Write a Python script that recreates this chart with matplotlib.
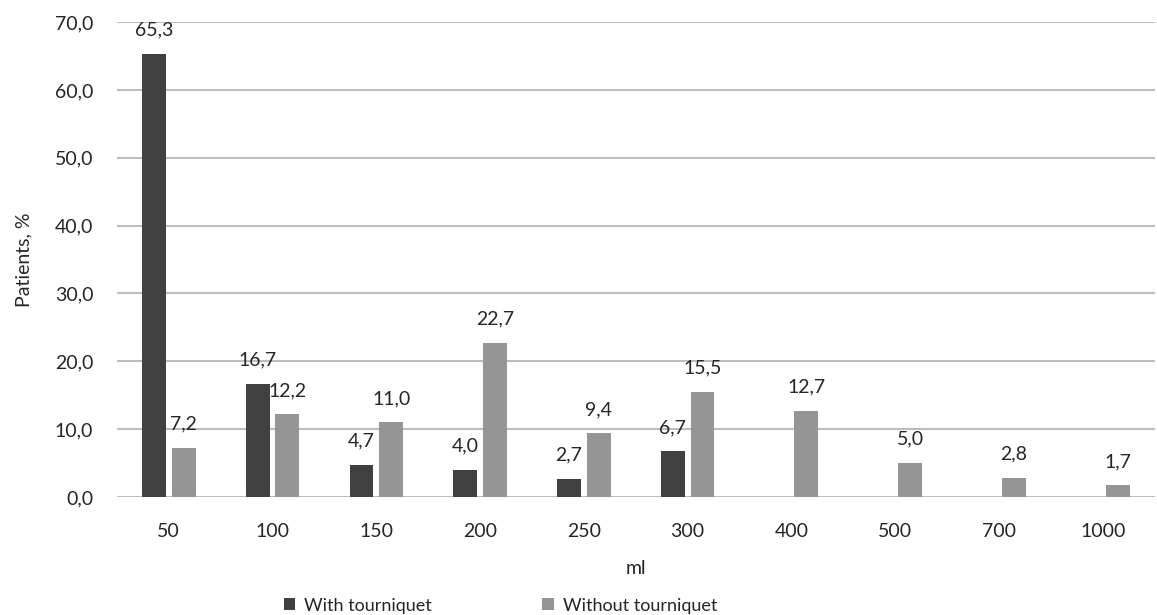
import numpy as np
import matplotlib.pyplot as plt

plt.rcParams['font.family'] = ['Lato', 'DejaVu Sans']

# Blood loss volume, ml
volumes = ['50', '100', '150', '200', '250', '300', '400', '500', '700', '1000']
with_tourniquet = [65.3, 16.7, 4.7, 4.0, 2.7, 6.7, np.nan, np.nan, np.nan, np.nan]
without_tourniquet = [7.2, 12.2, 11.0, 22.7, 9.4, 15.5, 12.7, 5.0, 2.8, 1.7]

dark = '#404040'
light = '#959595'
text_col = '#262626'

fig = plt.figure(figsize=(11.57, 6.15), dpi=100)
ax = fig.add_axes([0.101, 0.192, 0.897, 0.772])

x = np.arange(len(volumes))
w = 0.23
off = 0.143
b1 = ax.bar(x - off, with_tourniquet, w, color=dark, label='With tourniquet', zorder=3)
b2 = ax.bar(x + off, without_tourniquet, w, color=light, label='Without tourniquet', zorder=3)

def fmt(v):
    return f'{v:.1f}'.replace('.', ',')

for bars, vals in ((b1, with_tourniquet), (b2, without_tourniquet)):
    for r, v in zip(bars, vals):
        if np.isnan(v):
            continue
        ax.annotate(fmt(v), (r.get_x() + r.get_width() / 2, v), xytext=(0, 11),
                    textcoords='offset points', ha='center', va='bottom',
                    fontsize=14, color=text_col, zorder=4)

ax.set_xlim(-0.5, len(volumes) - 0.5)
ax.set_ylim(0, 70)
ax.set_yticks(np.arange(0, 71, 10))
ax.set_yticklabels([fmt(v) for v in np.arange(0, 71, 10)])
ax.set_xticks(x)
ax.set_xticklabels(volumes)
ax.tick_params(axis='both', length=0, labelsize=14, colors=text_col)
ax.tick_params(axis='y', pad=17)
ax.tick_params(axis='x', pad=19)
ax.grid(axis='y', color='#bdbdbd', linewidth=1.5, zorder=0)
for s in ax.spines.values():
    s.set_visible(False)

ax.set_xlabel('ml', fontsize=14, color=text_col, labelpad=14)
ax.set_ylabel('Patients, %', fontsize=14, color=text_col, labelpad=16)

fig.legend(loc='lower left', bbox_to_anchor=(0.231, -0.024), ncol=2, frameon=False,
           fontsize=13, handlelength=0.65, handleheight=0.65, handletextpad=0.5,
           columnspacing=6.1, labelcolor=text_col)

fig.savefig('out.png', dpi=100)
